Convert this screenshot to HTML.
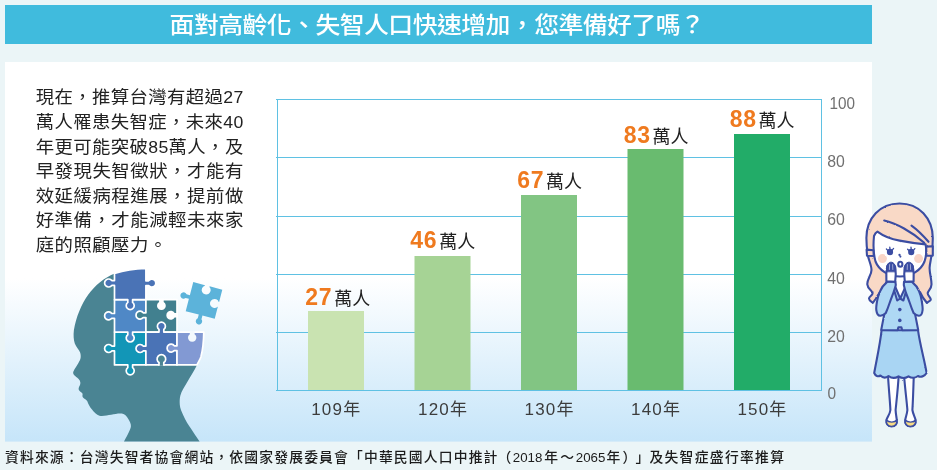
<!DOCTYPE html>
<html lang="zh-Hant">
<head>
<meta charset="utf-8">
<title>面對高齡化、失智人口快速增加，您準備好了嗎？</title>
<style>
html,body{margin:0;padding:0;}
body{width:937px;height:470px;overflow:hidden;background:#ebf5f7;font-family:"Liberation Sans","Noto Sans CJK TC",sans-serif;}
svg{display:block;position:absolute;left:0;top:0;}
text{font-family:"Liberation Sans","Noto Sans CJK TC",sans-serif;}
.ttl{font-size:23px;font-weight:500;fill:#fff;letter-spacing:-0.48px;}
.body{font-size:17.6px;fill:#222;}
.body .d{font-size:16.9px;}
.num{font-size:23px;font-weight:700;fill:#ef7a1f;letter-spacing:0.7px;}
.unit{font-size:18px;fill:#222;}
.ax{font-size:16.5px;fill:#707070;}
.yr{font-size:17px;fill:#3c3c3c;letter-spacing:1.2px;}
.src text{font-size:13.8px;fill:#1c1c1c;font-weight:500;}
.src text.sd{font-size:13.6px;font-weight:400;}
</style>
</head>
<body>
<svg width="937" height="470" viewBox="0 0 937 470">
<defs>
<linearGradient id="pg" x1="0" y1="0" x2="0" y2="1">
<stop offset="0" stop-color="#ffffff"/>
<stop offset="0.57" stop-color="#ffffff"/>
<stop offset="1" stop-color="#c6e5f9"/>
</linearGradient>
<filter id="rough" x="-5%" y="-5%" width="110%" height="110%"><feTurbulence type="fractalNoise" baseFrequency="0.45" numOctaves="2" seed="3" result="n"/><feDisplacementMap in="SourceGraphic" in2="n" scale="1.6" xChannelSelector="R" yChannelSelector="G"/></filter>
</defs>
<rect x="0" y="0" width="937" height="470" fill="#ebf5f7"/>
<!-- title bar -->
<rect x="5" y="5" width="867" height="39" fill="#40bbdd"/>
<text class="ttl" transform="translate(169.6 33.3) scale(1.08 1)" x="0" y="0">面對高齡化、失智人口快速增加，您準備好了嗎？</text>
<!-- panel -->
<rect x="5" y="62" width="867" height="379.6" fill="url(#pg)"/>

<!-- paragraph -->
<g class="body" transform="scale(1.045 1)">
<text x="34.1" y="103.5" textLength="198.7" lengthAdjust="spacing">現在，推算台灣有超過<tspan class="d">27</tspan></text>
<text x="34.1" y="128.05" textLength="198.7" lengthAdjust="spacing">萬人罹患失智症，未來<tspan class="d">40</tspan></text>
<text x="34.1" y="152.6" textLength="198.7" lengthAdjust="spacing">年更可能突破<tspan class="d">85</tspan>萬人，及</text>
<text x="34.1" y="177.15" textLength="198.7" lengthAdjust="spacing">早發現失智徵狀，才能有</text>
<text x="34.1" y="201.7" textLength="198.7" lengthAdjust="spacing">效延緩病程進展，提前做</text>
<text x="34.1" y="226.25" textLength="198.7" lengthAdjust="spacing">好準備，才能減輕未來家</text>
<text x="34.1" y="250.8" letter-spacing="0.46">庭的照顧壓力。</text>
</g>

<!-- chart -->
<g id="chart">
<g stroke="#5fc1e3" stroke-width="1" fill="none" shape-rendering="crispEdges">
<line x1="276" y1="99.5" x2="822" y2="99.5"/>
<line x1="276" y1="157.5" x2="822" y2="157.5"/>
<line x1="276" y1="216.5" x2="822" y2="216.5"/>
<line x1="276" y1="274.5" x2="822" y2="274.5"/>
<line x1="276" y1="332.5" x2="822" y2="332.5"/>
<line x1="276" y1="390.5" x2="822" y2="390.5"/>
<line x1="277.5" y1="99" x2="277.5" y2="391"/>
<line x1="821.5" y1="99" x2="821.5" y2="391"/>
</g>
<rect x="308" y="311" width="56" height="79" fill="#c9e3b1"/>
<rect x="414.5" y="256" width="56" height="134" fill="#a6d395"/>
<rect x="521" y="195" width="56" height="195" fill="#82c583"/>
<rect x="627.5" y="149" width="56" height="241" fill="#69bb6f"/>
<rect x="734" y="134" width="56" height="256" fill="#22ac68"/>

<text x="305.3" y="304.7"><tspan class="num">27</tspan><tspan class="unit" dx="1.9" dy="0.3">萬人</tspan></text>
<text x="410.3" y="247.7"><tspan class="num">46</tspan><tspan class="unit" dx="1.9" dy="0.3">萬人</tspan></text>
<text x="517.2" y="188"><tspan class="num">67</tspan><tspan class="unit" dx="1.9" dy="0.3">萬人</tspan></text>
<text x="623.7" y="142.6"><tspan class="num">83</tspan><tspan class="unit" dx="1.9" dy="0.3">萬人</tspan></text>
<text x="729.7" y="127"><tspan class="num">88</tspan><tspan class="unit" dx="1.9" dy="0.3">萬人</tspan></text>

<g class="ax">
<text x="829.4" y="109.2" textLength="25.5" lengthAdjust="spacingAndGlyphs">100</text>
<text x="827.3" y="166.8" textLength="17.6" lengthAdjust="spacingAndGlyphs">80</text>
<text x="827.3" y="225.2" textLength="17.6" lengthAdjust="spacingAndGlyphs">60</text>
<text x="827.3" y="283.6" textLength="17.6" lengthAdjust="spacingAndGlyphs">40</text>
<text x="827.3" y="341.6" textLength="17.6" lengthAdjust="spacingAndGlyphs">20</text>
<text x="827.4" y="398.8" textLength="8.6" lengthAdjust="spacingAndGlyphs">0</text>
</g>
<g class="yr">
<text x="311.2" y="414.6">109年</text>
<text x="418" y="414.6">120年</text>
<text x="524.5" y="414.6">130年</text>
<text x="631" y="414.6">140年</text>
<text x="737.4" y="414.6">150年</text>
</g>
</g>

<!-- source -->
<g class="src">
<text x="5" y="462.1" textLength="492.4" lengthAdjust="spacing">資料來源：台灣失智者協會網站，依國家發展委員會「中華民國人口中推計</text>
<text x="497.4" y="462.1">（</text>
<text x="512.8" y="462.1" class="sd" textLength="29.6" lengthAdjust="spacingAndGlyphs">2018</text>
<text x="544.2" y="462.1">年</text>
<text x="560.2" y="462.1">～</text>
<text x="575.8" y="462.1" class="sd" textLength="29.6" lengthAdjust="spacingAndGlyphs">2065</text>
<text x="606.6" y="462.1">年</text>
<text x="622.4" y="462.1">）</text>
<text x="635.6" y="462.1">」</text>
<text x="649.4" y="462.1" textLength="134.6" lengthAdjust="spacing">及失智症盛行率推算</text>
</g>

<!--HEAD_S-->
<g id="head">
<path d="M145.9,268.4 C135,268.6 124,270.3 115.3,273.2 C104,277.5 95,285.5 88,295 C81,305 76.2,317 73.9,330 C73.3,335 73.6,339.5 74.8,343.5 C76,347 79.5,350 80.3,353 C81,356 80.8,358 80,360 C78,364.5 74.5,368.5 73.2,372 C72.8,374.5 75,375.8 77,377.5 C79.5,379.5 80.8,381.5 80.3,384 C79.8,386 78.2,387.6 78.7,389.6 C79.2,391.6 82.6,392.6 82.6,394 C82.6,395.4 82,396.2 83,397.4 C84.2,398.8 86.6,399.6 87.3,401.2 C88.2,403.6 89.6,406.6 92,409.6 C94,412.4 96.5,415 99.5,415.8 C103.5,416.4 107.5,415.2 111.2,414.7 C115,414.1 118.5,413.2 121.9,413.6 C125,414.5 127,416.5 128.3,419 C130,422 131.2,424 130.9,426.5 C130.5,429.5 128,434 124,441.5 L199.6,441.5 C196.5,437 194,433.5 191.4,429.3 C188.5,424.8 185.4,420.4 183.6,415.9 C181.8,412 180,408.5 179.8,404.7 C179.6,401.5 179.6,398.8 180.3,395.8 C181.5,391 184.5,386.5 187,382.4 C190,377 194.5,370.5 197,365 C199,361 200.3,359 200.9,357 C202.5,351 203.6,344 203.8,332.1 L145.9,332.1 Z" fill="#4a8493"/>
<path d="M114.50,332.10 L145.90,332.10 L145.90,364.90 L132.60,364.90 L132.60,367.60 A4.0,4.0 0 1 1 127.80,367.60 L127.80,364.90 L114.50,364.90 L114.50,350.90 L111.80,350.90 A4.0,4.0 0 1 1 111.80,346.10 L114.50,346.10 Z" fill="#1296b7" stroke="#fff" stroke-width="1.7" stroke-linejoin="round"/>
<path d="M114.50,299.70 L145.90,299.70 L145.90,332.10 L132.60,332.10 L132.60,334.80 A4.0,4.0 0 1 1 127.80,334.80 L127.80,332.10 L114.50,332.10 L114.50,318.30 L111.80,318.30 A4.0,4.0 0 1 1 111.80,313.50 L114.50,313.50 Z" fill="#4f88c6" stroke="#fff" stroke-width="1.7" stroke-linejoin="round"/>
<path d="M114.5,273.4 C124,270.3 135,268.6 145.9,268.4 L145.9,280.80 L148.60,280.80 A4.0,4.0 0 1 1 148.60,285.60 L145.9,285.60 L145.9,299.7 L132.60,299.7 L132.60,302.40 A4.0,4.0 0 1 1 127.80,302.40 L127.80,299.7 L114.5,299.7 L114.5,285.40 L111.80,285.40 A4.0,4.0 0 1 1 111.80,280.60 L114.5,280.60 Z" fill="#4a73b6" stroke="#fff" stroke-width="1.7" stroke-linejoin="round"/>
<path d="M145.90,299.70 L177.00,299.70 L177.00,332.10 L145.90,332.10 L145.90,317.60 L143.20,317.60 A4.0,4.0 0 1 1 143.20,312.80 L145.90,312.80 Z" fill="#41808f" stroke="#fff" stroke-width="1.7" stroke-linejoin="round"/>
<path d="M145.90,332.10 L159.00,332.10 L159.00,329.40 A4.0,4.0 0 1 1 163.80,329.40 L163.80,332.10 L177.00,332.10 L177.00,364.90 L145.90,364.90 L145.90,350.90 L143.20,350.90 A4.0,4.0 0 1 1 143.20,346.10 L145.90,346.10 Z" fill="#4a73b6" stroke="#fff" stroke-width="1.7" stroke-linejoin="round"/>
<path d="M177.0,332.1 L203.8,332.1 C203.6,344 202.5,351 200.9,357 C200.3,359 199,361 197,364.9 L177.0,364.9 L177.0,350.60 L174.30,350.60 A4.0,4.0 0 1 1 174.30,345.80 L177.0,345.80 Z" fill="#8299d3" stroke="#fff" stroke-width="1.7" stroke-linejoin="round"/>
<path d="M159.00,365.80 L159.00,362.57 A4.3,4.3 0 1 1 163.80,362.57 L163.80,365.80" fill="#4a8493" stroke="#fff" stroke-width="1.7" stroke-linejoin="round"/>
<path d="M159.10,298.70 L159.10,301.95 A4.4,4.4 0 1 0 163.70,301.95 L163.70,298.70 Z" fill="#fff"/>
<path d="M178.00,312.90 L174.67,312.90 A4.5,4.5 0 1 0 174.67,317.50 L178.00,317.50 Z" fill="#fff"/>
<path d="M189.80,331.10 L189.80,334.15 A4.2,4.2 0 1 0 194.60,334.15 L194.60,331.10 Z" fill="#f3f9fd"/>
<path d="M-15.0,-15.0 L-2.90,-15.0 L-2.90,-14.41 A4.5,4.5 0 1 0 1.90,-14.41 L1.90,-15.0 L15.0,-15.0 L15.0,-2.10 L14.71,-2.10 A4.5,4.5 0 1 0 14.71,2.70 L15.0,2.70 L15.0,15.0 L2.30,15.0 L2.30,18.93 A3.2,3.2 0 1 1 -1.50,18.93 L-1.50,15.0 L-15.0,15.0 L-15.0,2.30 L-18.43,2.30 A3.2,3.2 0 1 1 -18.43,-1.50 L-15.0,-1.50 Z" fill="#5cb3da" transform="translate(204 300.4) rotate(14.6)"/>
</g>
<!--HEAD_E-->
<!--WOMAN_S-->
<g id="woman" stroke="#3b4da2" stroke-width="2.1" stroke-linejoin="round" stroke-linecap="round" filter="url(#rough)">
<!-- long hair back -->
<path d="M899.6,203.5 C880,203.5 866.5,218 866.4,238 C866.4,244 867,250 867.8,255 C868.5,260 871.5,265 871.5,270 C871.5,275 867,279 867.3,284.4 C867.6,289 872.5,290.5 872.6,293.3 C872.6,295.5 869,296.5 869,298.6 C869,300.5 871.2,301.6 872.8,302.8 L875.6,299 L880,292 L920,292 L923.2,298 L927,303 C928,301.5 930.8,301 930.8,299.5 C930.8,297.5 927.6,295.5 927.7,293.3 C927.8,290.5 931.4,289 931.5,284.4 C931.6,279 929.4,273 929.6,267.8 C929.8,263 931.2,259 931.5,255 C932.4,250 932.8,244 932.8,238 C932.6,218 919,203.5 899.6,203.5 Z" fill="#f9d9c6"/>
<!-- legs -->
<path d="M888,375 C888.6,388 890,400 890.4,410 C890,414 887.6,416.5 886.4,420 C886,423.5 887.6,426.4 891.4,426.4 C895.6,426.4 897.4,423.5 896.8,420 C896.4,416.5 895.8,414 895.6,410 C896.6,400 898,388 898.7,375 Z" fill="#fff"/>
<path d="M904,375 C905,388 906.6,400 907.4,410 C907,414 905.8,416.5 905.2,420 C904.8,423.5 906.4,426.4 910.2,426.4 C914.4,426.4 916.2,423.5 915.6,420 C914.8,416.5 913,414 912.4,410 C913,400 913.4,388 913.8,375 Z" fill="#fff"/>
<!-- shoes -->
<path d="M886.4,420 C886,423.5 887.6,426.4 891.4,426.4 C895.6,426.4 897.4,423.5 896.8,420 C895,422.8 888.6,422.8 886.4,420 Z" fill="#f8dc85" stroke-width="1.4"/>
<path d="M905.2,420 C904.8,423.5 906.4,426.4 910.2,426.4 C914.4,426.4 916.2,423.5 915.6,420 C913.8,422.8 907.4,422.8 905.2,420 Z" fill="#f8dc85" stroke-width="1.4"/>
<!-- skirt -->
<path d="M881.6,330.2 C880,345 876.5,360 874.2,373 C875.5,376 878,377 880.4,375.5 C882.8,378 886,378 888.5,376 C891.5,378.3 895.5,378.3 898.5,376.3 C901.5,378.3 905.5,378.3 908.5,376.3 C911.5,378.3 915.5,378 918,376 C920.6,377.5 924.5,376.5 926.6,373 C924.5,360 920,345 918,330.2 Z" fill="#a9d5f3"/>
<!-- jacket body -->
<path d="M892,284 C888.5,294 885,310 881.2,330 L897.6,330.2 L898.4,327.4 L901.4,327.4 L902.2,330.2 L918.2,330 C914.4,310 911,294 907.6,284 Z" fill="#aed8f4"/>
<!-- neck / collar -->
<path d="M895.6,272 L895.3,287.5 L900.2,298.5 L905.5,287.5 L905,272 Z" fill="#fff" stroke="none"/>
<path d="M895.3,287 L900.2,298.5 L905.5,287" fill="#fff"/>
<path d="M893.6,288.5 L897.2,300.5 L900.2,298.5 M906.8,288.5 L903.4,300.5 L900.2,298.5" fill="none"/>
<!-- buttons -->
<circle cx="899.8" cy="309.6" r="1.8" fill="#3b4da2" stroke="none"/>
<circle cx="899.8" cy="320.4" r="1.8" fill="#3b4da2" stroke="none"/>
<!-- face -->
<path d="M874,236 C875,233.5 876,232.3 877.4,231.6 C884,236.5 892,239.3 899.6,240.6 C908,242.2 917,243.6 925.6,244.4 C926.6,250 926.4,256 924.5,261.5 C921,270.5 911,276.5 900,276.5 C889,276.5 879,270.5 875.5,261.5 C873.4,254 873.2,244 874,236 Z" fill="#fff"/>
<!-- hair parting lines -->
<path d="M884.2,220.5 C896,223 912,232 924.2,242.7 M911.5,225.6 C917,229.5 923.5,236 928.5,241.8" fill="none"/>
<!-- hair ties -->
<path d="M866.6,249.6 L873.4,250.2 L873.8,256 L867,255.8 Z M926.2,246.6 L932.8,246.2 L932.8,255.6 L926.4,255.8 Z" fill="#f9d9c6"/>
<!-- cheeks -->
<circle cx="882.4" cy="258.6" r="4.5" fill="#f9d5c6" stroke="none"/>
<circle cx="918.6" cy="258.6" r="4.5" fill="#f9d5c6" stroke="none"/>
<!-- eyes -->
<ellipse cx="890" cy="252" rx="3.1" ry="3.3" fill="#3b4da2" stroke="none"/>
<ellipse cx="911.2" cy="252" rx="3.1" ry="3.3" fill="#3b4da2" stroke="none"/>
<path d="M886.4,249 L888,250.6 M889.8,247.2 L890,249.4 M893.6,248.4 L892.2,250.2 M907.6,249.2 L909.2,250.8 M911,247.2 L911.2,249.4 M914.8,248.6 L913.4,250.4" fill="none" stroke-width="1.3"/>

<!-- nose -->
<circle cx="899.5" cy="254.9" r="1.15" fill="#3b4da2" stroke="none"/><circle cx="900.4" cy="256.6" r="1.05" fill="#3b4da2" stroke="none"/>
<!-- mouth -->
<ellipse cx="900.3" cy="264.2" rx="2.1" ry="2.5" fill="#fff" stroke-width="2.1"/>
<!-- sleeves -->
<path d="M887.4,281.6 C884,284.5 881.6,287.5 880.2,291 C878.4,295 877.4,298 877,301.5 C876.4,305 876,307.5 876.3,310 C876.8,313.6 878.4,316 880.4,315.8 C882.4,315.6 884.2,314.6 885.8,313 C887.4,309.5 888.6,306 889.6,303 C890.8,299.5 892.2,296 893.3,293 C894.4,290 895.2,287.5 895.8,285 L895.4,281.8 Z" fill="#aed8f4"/>
<path d="M911.8,281.6 C915.2,284.5 917.6,287.5 919,291 C920.8,295 921.4,298 921.8,301.5 C922.4,305 922.8,307.5 922.6,310 C922.2,313.6 920.8,316 918.8,315.8 C916.8,315.6 915.2,314.6 913.6,313 C912,309.5 910.8,306 909.8,303 C908.6,299.5 907.2,296 906,293 C905,290 904.4,287.5 903.8,285 L904,281.8 Z" fill="#aed8f4"/>
<!-- hands -->
<path d="M887.2,266.5 C886.4,270 886,276 886.4,281.4 L895.2,281.8 C895.8,277 895.9,271 895.2,267 C894,263.4 888.6,263 887.2,266.5 Z" fill="#fff"/>
<path d="M912.8,266.5 C913.6,270 914,276 913.6,281.4 L904.8,281.8 C904.2,277 904.1,271 904.8,267 C906,263.4 911.4,263 912.8,266.5 Z" fill="#fff"/>
<path d="M886.6,271.4 C885.8,266.5 887.6,262.4 890.8,262.2 C894.2,262 896.2,266 895.6,271.4 Z M913.4,271.4 C914.2,266.5 912.4,262.4 909.2,262.2 C905.8,262 903.8,266 904.4,271.4 Z" fill="#3b4da2" stroke-width="1"/>
<path d="M889.6,264.6 L889.4,269.5 M892.6,264.6 L892.8,269.5 M910.4,264.6 L910.6,269.5 M907.4,264.6 L907.2,269.5" fill="none" stroke="#c9d0ee" stroke-width="0.7"/>
</g>

<!--WOMAN_E-->
</svg>
</body>
</html>
